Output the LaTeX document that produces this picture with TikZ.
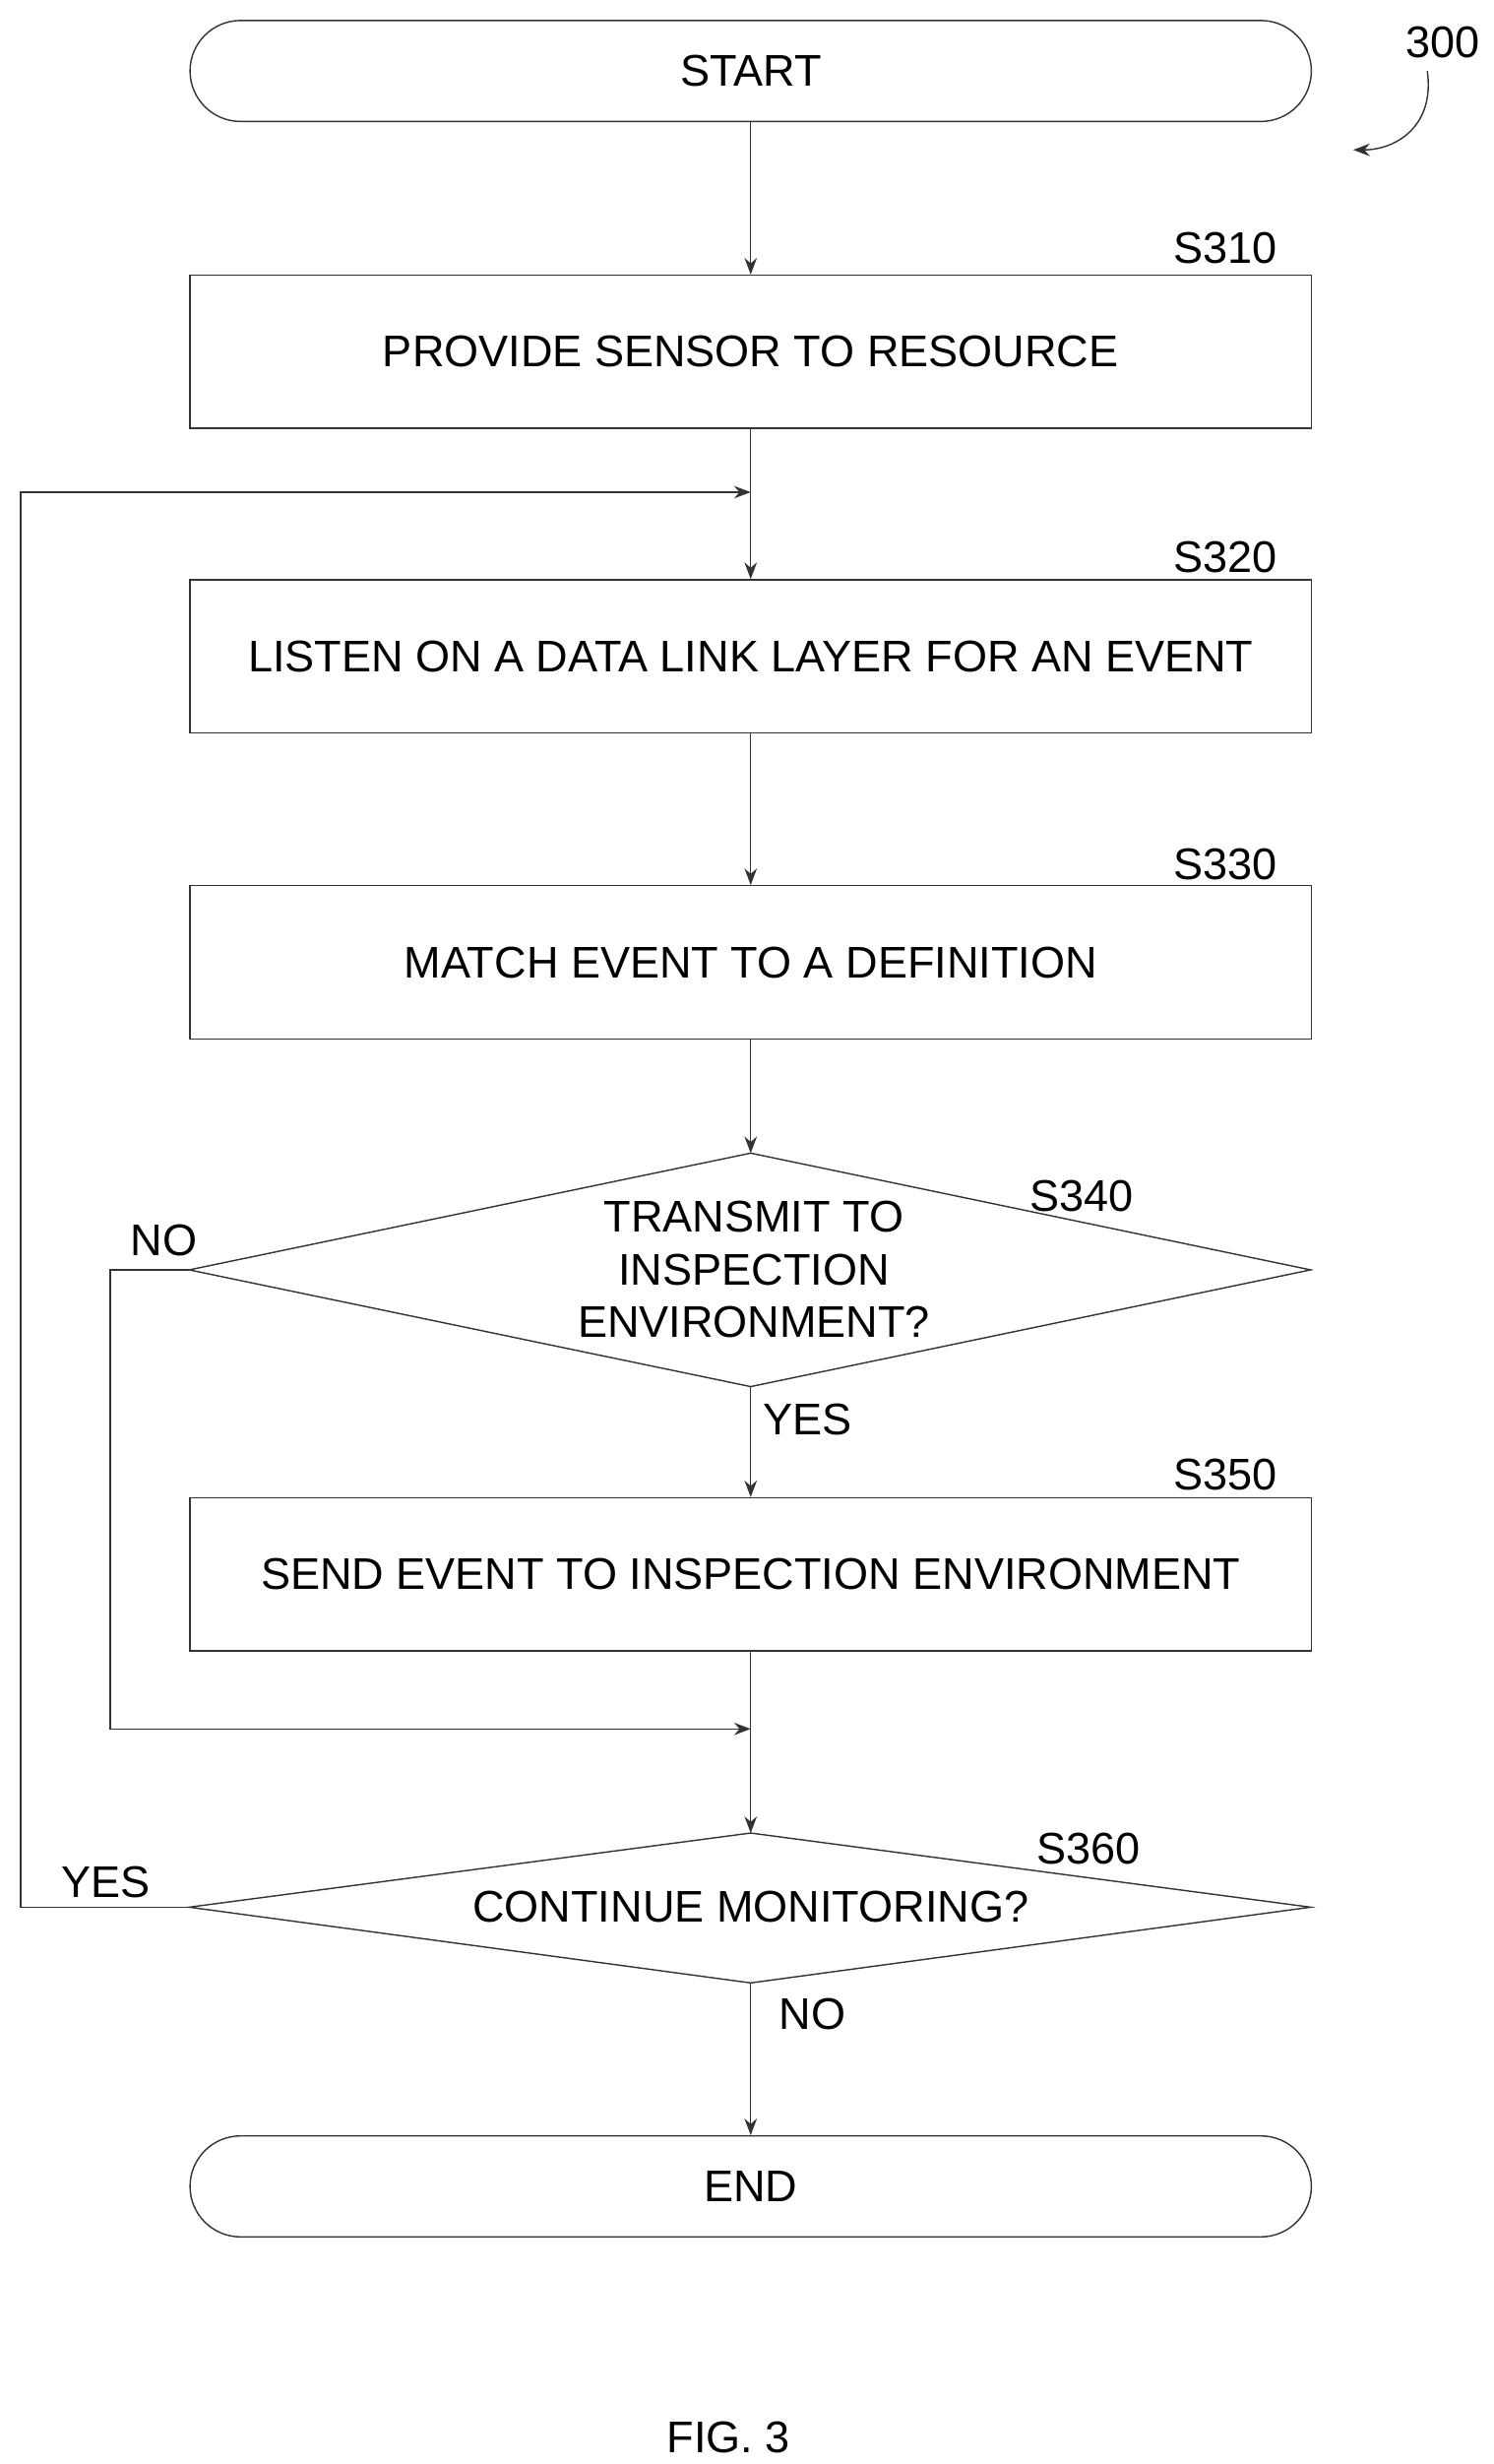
\documentclass[tikz,border=0pt]{standalone}
\usepackage{fontspec}
\setmainfont{Liberation Sans}
\usetikzlibrary{shapes.geometric,arrows.meta}
\begin{document}
\begin{tikzpicture}[x=0.02cm,y=-0.02cm,
  font=\fontsize{16}{18}\selectfont,
  ln/.style={draw=black!80,line width=0.5pt},
  arr/.style={ln,-{Stealth[length=6pt,width=4.5pt]}},
  box/.style={ln,rectangle,minimum width=711*0.02cm,minimum height=97*0.02cm,inner sep=0pt},
  term/.style={ln,rectangle,rounded corners=32*0.02cm,minimum width=711*0.02cm,minimum height=64*0.02cm,inner sep=0pt},
  lab/.style={inner sep=0pt}]
\useasboundingbox (0,0) rectangle (947,1562);
\node[term] (start) at (476,45) {START};
\node[box] (s310) at (476,223) {PROVIDE SENSOR TO RESOURCE};
\node[box] (s320) at (476,416) {LISTEN ON A DATA LINK LAYER FOR AN EVENT};
\node[box] (s330) at (476,610) {MATCH EVENT TO A DEFINITION};
\node[box] (s350) at (476,998) {SEND EVENT TO INSPECTION ENVIRONMENT};
\node[term] (end) at (476,1386) {END};
\draw[ln] (476,731) coordinate (d1t) -- (831,805) coordinate (d1r) -- (476,879) coordinate (d1b) -- (120,805) coordinate (d1l) -- cycle;
\node[lab,align=center] (d1) at (478,805) {TRANSMIT TO\\[1pt]INSPECTION\\[1pt]ENVIRONMENT?};
\draw[ln] (476,1162) coordinate (d2t) -- (831,1209) coordinate (d2r) -- (476,1257) coordinate (d2b) -- (120,1209) coordinate (d2l) -- cycle;
\node[lab] (d2) at (476,1209) {CONTINUE MONITORING?};
\node[lab] (l310) at (777,157) {S310};
\node[lab] (l320) at (777,353) {S320};
\node[lab] (l330) at (777,548) {S330};
\node[lab] (l340) at (686,758) {S340};
\node[lab] (l350) at (777,935) {S350};
\node[lab] (l360) at (690,1172) {S360};
\node[lab] (no1) at (104,786) {NO};
\node[lab] (yes1) at (512,900) {YES};
\node[lab] (yes2) at (67,1193) {YES};
\node[lab] (no2) at (515,1277) {NO};
\node[lab] (n300) at (915,27) {300};
\node[lab] (fig) at (462,1545) {FIG. 3};
\coordinate (j1) at (476,312);
\coordinate (j2) at (476,1096);
\draw[arr] (start) -- (s310);
\draw[ln] (s310) -- (j1);
\draw[arr] (j1) -- (s320);
\draw[arr] (s320) -- (s330);
\draw[arr] (s330) -- (d1t);
\draw[arr] (d1b) -- (s350);
\draw[ln] (s350) -- (j2);
\draw[arr] (j2) -- (d2t);
\draw[arr] (d2b) -- (end);
\draw[arr] (d1l) -- (70,805) -- (70,1096) -- (j2);
\draw[arr] (d2l) -- (13,1209) -- (13,312) -- (j1);
\draw[arr] (905,45) .. controls (910,80) and (885,95) .. (858,95);
\end{tikzpicture}
\end{document}
